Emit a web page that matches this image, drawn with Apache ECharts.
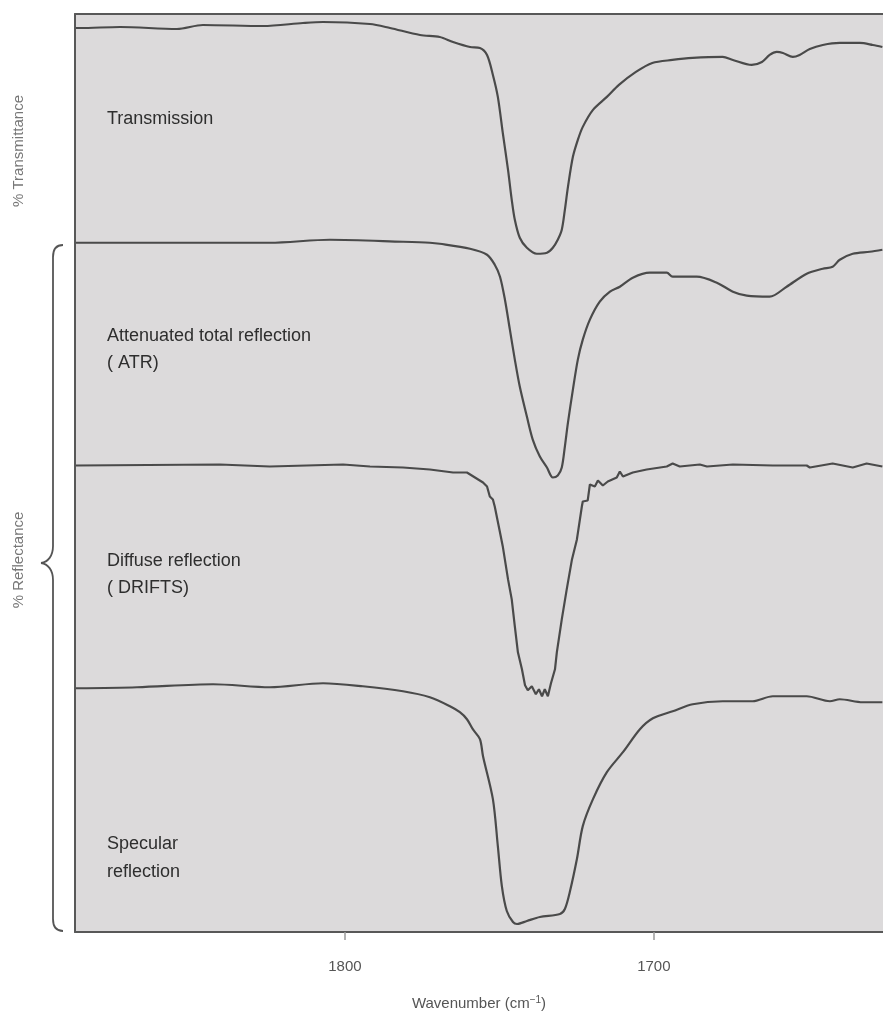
<!DOCTYPE html>
<html>
<head>
<meta charset="utf-8">
<title>IR sampling techniques</title>
<script src="https://cdn.jsdelivr.net/npm/echarts@6/dist/echarts.min.js"></script>
<style>
  html, body { margin: 0; padding: 0; background: #fff; }
  #chart { width: 883px; height: 1016px; }
</style>
</head>
<body>
<div id="chart"></div>
<script>
// x ticks shown on the axis
var tickLabels = [1800, 1700]

// Transmission
var transWn = [1887.1, 1885.8, 1872.8, 1854.4, 1846.0, 1826.5, 1813.6, 1807.1, 1791.9, 1785.4, 1775.7, 1769.3, 1765.0, 1759.5, 1756.3,
  1754.0, 1752.1, 1750.5, 1748.9, 1747.2, 1746.0, 1745.0, 1743.4, 1741.1, 1737.9, 1734.6, 1732.7, 1731.1, 1729.8, 1728.8, 1727.8,
  1726.2, 1724.6, 1723.0, 1719.7, 1715.2, 1711.3, 1705.8, 1700.5, 1694.0, 1687.4, 1677.7, 1674.4, 1668.3, 1665.0, 1662.5, 1660.2,
  1658.2, 1655.0, 1652.8, 1649.5, 1645.3, 1639.8, 1633.3, 1629.1, 1626.0]
var transVal = [90.5, 90.5, 90.6, 90.4, 90.8, 90.7, 91.0, 91.1, 90.9, 90.5, 89.8, 89.6, 89.1, 88.6, 88.5,
  87.8, 85.8, 83.6, 80.0, 76.3, 73.3, 71.3, 69.5, 68.5, 67.9, 68.0, 68.5, 69.3, 70.3, 72.3, 74.6,
  77.6, 79.3, 80.6, 82.3, 83.6, 84.8, 86.1, 87.0, 87.3, 87.5, 87.6, 87.3, 86.8, 87.1, 87.8, 88.1,
  88.0, 87.6, 87.8, 88.4, 88.8, 89.0, 89.0, 88.8, 88.6]

// Attenuated total reflection
var atrWn = [1887.1, 1846.0, 1824.3, 1804.9, 1781.2, 1772.5, 1769.3, 1759.5, 1754.0, 1751.5, 1749.8, 1748.2, 1746.6, 1745.0,
  1743.4, 1741.1, 1739.2, 1736.9, 1734.6, 1732.7, 1731.1, 1729.8, 1728.8, 1727.8, 1726.2, 1724.6, 1723.0, 1720.7, 1717.5,
  1714.2, 1711.0, 1706.8, 1701.3, 1695.8, 1693.9, 1686.1, 1679.6, 1674.4, 1669.9, 1662.5, 1657.0, 1650.5, 1645.3, 1642.1,
  1639.8, 1635.6, 1630.1, 1626.0]
var atrVal = [69.0, 69.0, 69.0, 69.3, 69.1, 69.0, 68.9, 68.4, 67.8, 66.8, 65.6, 63.3, 60.3, 57.3,
  54.6, 51.6, 49.3, 47.6, 46.5, 45.5, 45.7, 46.5, 48.6, 51.0, 54.3, 57.3, 59.3, 61.3, 63.1,
  64.1, 64.6, 65.5, 66.0, 66.0, 65.6, 65.6, 65.0, 64.1, 63.7, 63.6, 64.6, 65.9, 66.4, 66.6,
  67.3, 67.9, 68.1, 68.3]

// Diffuse reflection (DRIFTS)
var driftsWn = [1887.1, 1840.5, 1824.3, 1800.6, 1791.9, 1781.2, 1772.5, 1765.0, 1760.5, 1755.3, 1754.0, 1753.1, 1752.1,
  1751.5, 1749.8, 1748.9, 1747.2, 1746.0, 1745.0, 1744.0, 1742.7, 1741.7, 1740.8, 1739.5, 1738.2, 1737.2, 1736.2, 1735.3,
  1734.3, 1733.3, 1732.0, 1731.4, 1729.8, 1728.2, 1726.5, 1724.9, 1723.3, 1723.0, 1721.4, 1720.7, 1719.1, 1718.1, 1716.5,
  1714.9, 1712.0, 1711.0, 1710.0, 1706.8, 1702.3, 1695.8, 1693.9, 1691.6, 1685.1, 1682.8, 1674.4, 1661.5, 1650.5, 1649.5,
  1642.1, 1635.6, 1631.1, 1626.0]
var driftsVal = [46.7, 46.8, 46.6, 46.8, 46.6, 46.5, 46.3, 46.0, 46.0, 45.0, 44.6, 43.6, 43.3,
  42.6, 40.0, 38.6, 35.3, 33.3, 30.6, 28.0, 26.3, 24.7, 24.2, 24.6, 23.8, 24.3, 23.6, 24.3,
  23.6, 24.9, 26.3, 28.0, 31.3, 34.3, 37.3, 39.3, 42.6, 43.1, 43.2, 44.8, 44.6, 45.2, 44.7,
  45.1, 45.5, 46.1, 45.6, 46.0, 46.3, 46.6, 46.9, 46.6, 46.8, 46.6, 46.8, 46.7, 46.7, 46.5,
  46.9, 46.5, 46.9, 46.6]

// Specular reflection
var specWn = [1887.1, 1867.3, 1842.7, 1824.3, 1807.1, 1794.2, 1781.2, 1772.5, 1766.0, 1762.8, 1760.5, 1758.6, 1756.3,
  1755.3, 1752.1, 1750.5, 1749.2, 1747.6, 1745.6, 1744.3, 1741.1, 1736.9, 1730.4, 1728.8, 1727.2, 1724.9, 1723.0,
  1719.7, 1715.2, 1710.0, 1704.5, 1700.3, 1693.9, 1687.4, 1677.7, 1668.0, 1661.5, 1650.5, 1643.0, 1639.8, 1632.4, 1626.0]
var specVal = [24.4, 24.5, 24.8, 24.5, 24.9, 24.6, 24.1, 23.5, 22.6, 22.0, 21.3, 20.3, 19.3,
  17.6, 13.3, 8.6, 4.6, 2.1, 1.0, 0.8, 1.1, 1.5, 1.8, 2.3, 4.0, 7.3, 10.6,
  13.3, 16.0, 18.0, 20.3, 21.4, 22.1, 22.8, 23.1, 23.1, 23.6, 23.6, 23.1, 23.3, 23.0, 23.0]

function pairs (xs, ys) {
  return xs.map(function (x, i) { return [x, ys[i]] })
}

var lineColor = '#4a4a4a'
var frameLine = { show: true, lineStyle: { color: '#585858', width: 2 } }
var labelFont = '18px "Liberation Sans", Arial, sans-serif'
var sideFont = '15px "Liberation Sans", Arial, sans-serif'
var braceStyle = { fill: null, stroke: '#555', lineWidth: 1.8 }
var xMin = 1625.8
var xMax = 1887.4

function traceSeries (name, data, smooth) {
  return {
    name: name,
    type: 'line',
    data: data,
    smooth: smooth,
    symbol: 'none',
    silent: true,
    lineStyle: { color: lineColor, width: 2.2 }
  }
}

function note (text, x, y) {
  return {
    type: 'text',
    x: x,
    y: y,
    style: { text: text, font: labelFont, fill: '#2e2e2e', textVerticalAlign: 'middle' }
  }
}

function curve (x1, y1, cx1, cy1, cx2, cy2, x2, y2) {
  return {
    type: 'bezierCurve',
    shape: { x1: x1, y1: y1, cpx1: cx1, cpy1: cy1, cpx2: cx2, cpy2: cy2, x2: x2, y2: y2 },
    style: braceStyle
  }
}

function vline (x, y1, y2) {
  return { type: 'line', shape: { x1: x, y1: y1, x2: x, y2: y2 }, style: braceStyle }
}

var chart = echarts.init(document.getElementById('chart'))

chart.setOption({
  animation: false,
  backgroundColor: '#ffffff',
  grid: {
    left: 75,
    right: 0,
    top: 14,
    bottom: 83,
    show: true,
    backgroundColor: '#dcdadb',
    borderWidth: 0
  },
  xAxis: [
    {
      type: 'value',
      inverse: true,
      min: xMin,
      max: xMax,
      splitLine: { show: false },
      axisLine: frameLine,
      axisTick: {
        show: true,
        customValues: tickLabels,
        length: 8,
        lineStyle: { color: '#9a9a9a', width: 1.5 }
      },
      axisLabel: {
        customValues: tickLabels,
        formatter: function (v) { return String(v) },
        margin: 27,
        color: '#555',
        fontSize: 15,
        fontFamily: 'Liberation Sans'
      },
      name: 'Wavenumber (cm{sup|\u22121})',
      nameLocation: 'middle',
      nameGap: 63,
      nameTextStyle: {
        color: '#555',
        fontSize: 15,
        fontFamily: 'Liberation Sans',
        rich: {
          sup: { fontSize: 10, color: '#555', fontFamily: 'Liberation Sans', verticalAlign: 'top', padding: [0, 0, 7, 0] }
        }
      }
    },
    {
      // top edge of the frame
      type: 'value',
      position: 'top',
      inverse: true,
      min: xMin,
      max: xMax,
      splitLine: { show: false },
      axisLine: frameLine,
      axisTick: { show: false },
      axisLabel: { show: false }
    }
  ],
  yAxis: {
    type: 'value',
    min: 0,
    max: 91.9,
    splitLine: { show: false },
    axisLine: frameLine,
    axisTick: { show: false },
    axisLabel: { show: false }
  },
  series: [
    traceSeries('Transmission', pairs(transWn, transVal), 0.3),
    traceSeries('ATR', pairs(atrWn, atrVal), 0.3),
    traceSeries('DRIFTS', pairs(driftsWn, driftsVal), false),
    traceSeries('Specular', pairs(specWn, specVal), 0.3)
  ],
  graphic: [
    note('Transmission', 107, 119),
    note('Attenuated total reflection', 107, 336),
    note('( ATR)', 107, 363),
    note('Diffuse reflection', 107, 561),
    note('( DRIFTS)', 107, 588),
    note('Specular', 107, 844),
    note('reflection', 107, 872),
    {
      type: 'text',
      x: 19,
      y: 151,
      rotation: Math.PI / 2,
      style: { text: '% Transmittance', font: sideFont, fill: '#777', textAlign: 'center', textVerticalAlign: 'middle' }
    },
    {
      type: 'text',
      x: 19,
      y: 560,
      rotation: Math.PI / 2,
      style: { text: '% Reflectance', font: sideFont, fill: '#777', textAlign: 'center', textVerticalAlign: 'middle' }
    },
    // brace grouping the three reflectance traces
    curve(63, 245, 57, 245, 53, 249, 53, 257),
    vline(53, 257, 546),
    curve(53, 546, 53, 556, 48, 562, 41, 563),
    curve(41, 563, 48, 564, 53, 570, 53, 580),
    vline(53, 580, 919),
    curve(53, 919, 53, 927, 57, 931, 63, 931)
  ]
})
</script>
</body>
</html>
